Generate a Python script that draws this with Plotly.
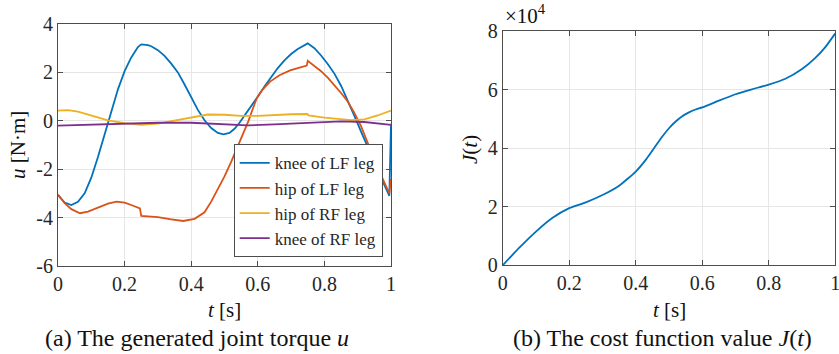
import plotly.graph_objects as go

# ---------------- data ----------------
t_knee_lf = [0, 0.02, 0.04, 0.06, 0.08, 0.10, 0.12, 0.14, 0.16, 0.18, 0.20, 0.22, 0.24, 0.25,
             0.27, 0.28, 0.30, 0.32, 0.34, 0.36, 0.38, 0.40, 0.42, 0.44, 0.46, 0.48, 0.497, 0.515,
             0.53, 0.545, 0.56, 0.58, 0.60, 0.62, 0.64, 0.66, 0.68, 0.70, 0.72, 0.74, 0.75,
             0.77, 0.79, 0.81, 0.83, 0.85, 0.87, 0.89, 0.91, 0.93, 0.95, 0.97, 0.985, 0.995, 1.0]
u_knee_lf = [-3.07, -3.38, -3.48, -3.35, -3.0, -2.35, -1.5, -0.6, 0.35, 1.3, 2.05, 2.62, 3.05, 3.16,
             3.13, 3.08, 2.92, 2.68, 2.36, 2.0, 1.5, 0.95, 0.45, 0.02, -0.3, -0.5, -0.56, -0.5,
             -0.33, -0.08, 0.2, 0.6, 1.0, 1.42, 1.82, 2.18, 2.5, 2.76, 2.97, 3.14, 3.2,
             3.0, 2.7, 2.35, 1.95, 1.45, 0.85, 0.2, -0.45, -1.05, -1.7, -2.35, -2.8, -3.1, -0.12]

t_hip_lf = [0, 0.02, 0.04, 0.066, 0.09, 0.12, 0.15, 0.176, 0.2, 0.22, 0.246, 0.25, 0.3, 0.34,
            0.376, 0.41, 0.44, 0.46, 0.48, 0.50, 0.52, 0.54, 0.556, 0.572, 0.585, 0.597, 0.615,
            0.637, 0.665, 0.697, 0.72, 0.747, 0.75, 0.77, 0.79, 0.81, 0.83, 0.85, 0.87, 0.89,
            0.91, 0.93, 0.95, 0.97, 0.985, 0.995, 1.0]
u_hip_lf = [-3.05, -3.4, -3.65, -3.82, -3.75, -3.58, -3.42, -3.34, -3.38, -3.48, -3.62, -3.93, -3.98, -4.07,
            -4.14, -4.05, -3.78, -3.34, -2.85, -2.3, -1.7, -1.05, -0.5, 0.0, 0.5, 0.93, 1.3,
            1.62, 1.88, 2.08, 2.18, 2.28, 2.48, 2.28, 2.05, 1.78, 1.47, 1.15, 0.8, 0.33,
            -0.22, -0.93, -1.6, -2.25, -2.7, -3.0, -2.4]

t_hip_rf = [0, 0.03, 0.06, 0.10, 0.15, 0.20, 0.25, 0.30, 0.35, 0.40, 0.45, 0.50, 0.55, 0.60,
            0.65, 0.70, 0.749, 0.752, 0.80, 0.85, 0.88, 0.92, 0.96, 1.0]
u_hip_rf = [0.42, 0.44, 0.38, 0.22, 0.02, -0.1, -0.17, -0.12, 0.0, 0.15, 0.26, 0.25, 0.2, 0.2,
            0.24, 0.27, 0.28, 0.22, 0.13, 0.05, 0.03, 0.06, 0.22, 0.42]

t_knee_rf = [0, 0.10, 0.20, 0.30, 0.40, 0.50, 0.57, 0.65, 0.75, 0.85, 0.92, 1.0]
u_knee_rf = [-0.2, -0.15, -0.1, -0.08, -0.08, -0.15, -0.19, -0.15, -0.08, -0.02, -0.05, -0.17]

t_cost = [0, 0.05, 0.10, 0.15, 0.20, 0.25, 0.30, 0.35, 0.40, 0.43, 0.46, 0.48, 0.50, 0.52, 0.54,
          0.56, 0.58, 0.60, 0.65, 0.70, 0.75, 0.80, 0.85, 0.90, 0.94, 0.97, 1.0]
J_cost = [0, 6000, 11500, 16200, 19500, 21500, 24000, 27200, 32000, 36000, 40800, 44000, 46800,
          49100, 50900, 52200, 53200, 53900, 56200, 58400, 60100, 61700, 63700, 67000, 70800,
          74500, 79200]

u_ticks = [-6, -4, -2, 0, 2, 4]
u_ticktext = ["-6", "-4", "-2", "0", "2", "4"]
t_ticks = [0, 0.2, 0.4, 0.6, 0.8, 1]
t_ticktext = ["0", "0.2", "0.4", "0.6", "0.8", "1"]
J_ticks = [0, 20000, 40000, 60000, 80000]
J_ticktext = ["0", "2", "4", "6", "8"]

names = ["knee of LF leg", "hip of LF leg", "hip of RF leg", "knee of RF leg"]
colors = ["#0072BD", "#D95319", "#EDB120", "#7E2F8E"]

# ---------------- figure ----------------
W, H = 839, 354
FONT = "Times New Roman, Liberation Serif, DejaVu Serif, serif"
TXT = "#262626"

fig = go.Figure()
series = [(t_knee_lf, u_knee_lf), (t_hip_lf, u_hip_lf), (t_hip_rf, u_hip_rf), (t_knee_rf, u_knee_rf)]
for (tx, uy), nm, c in zip(series, names, colors):
    fig.add_trace(go.Scatter(x=tx, y=uy, mode="lines", name=nm,
                             line=dict(color=c, width=1.8), xaxis="x", yaxis="y"))

fig.add_trace(go.Scatter(x=t_cost, y=J_cost, mode="lines", showlegend=False,
                         line=dict(color=colors[0], width=1.8, shape="spline", smoothing=0.5),
                         xaxis="x2", yaxis="y2"))

def px_x(p):
    return p / W

def px_y(p):
    return 1 - p / H

axis_common = dict(showline=True, linecolor="#4d4d4d", linewidth=1, mirror="ticks",
                   ticks="inside", ticklen=5, tickcolor="#4d4d4d", automargin=False,
                   ticklabeloverflow="allow",
                   showgrid=True, gridcolor="#e6e6e6", gridwidth=1, zeroline=False,
                   tickfont=dict(family=FONT, size=20, color=TXT))

fig.update_layout(
    template="none",
    width=W, height=H,
    margin=dict(l=0, r=0, t=0, b=0, pad=0),
    paper_bgcolor="white", plot_bgcolor="white",
    font=dict(family=FONT, size=20, color=TXT),
    xaxis=dict(domain=[px_x(58), px_x(391)], range=[0, 1], tickvals=t_ticks, ticktext=t_ticktext,
               anchor="y", **axis_common),
    yaxis=dict(domain=[px_y(266), px_y(24)], range=[-6, 4], tickvals=u_ticks, ticktext=u_ticktext,
               anchor="x", **axis_common),
    xaxis2=dict(domain=[px_x(502.7), px_x(835.3)], range=[0, 1], tickvals=t_ticks, ticktext=t_ticktext,
                anchor="y2", **axis_common),
    yaxis2=dict(domain=[px_y(265.3), px_y(31)], range=[0, 80000], tickvals=J_ticks, ticktext=J_ticktext,
                anchor="x2", **axis_common),
    legend=dict(x=px_x(382.7), y=px_y(257.3), xanchor="right", yanchor="bottom",
                bgcolor="white", bordercolor="#4d4d4d", borderwidth=1,
                font=dict(family=FONT, size=17, color=TXT), tracegroupgap=0),
    showlegend=True,
)

ann = [
    dict(x=px_x(224), y=px_y(310), text="<i>t</i> [s]", font=dict(size=21)),
    dict(x=px_x(669), y=px_y(310), text="<i>t</i> [s]", font=dict(size=21)),
    dict(x=px_x(18), y=px_y(145), text="<i>u</i> [N·m]", textangle=-90, font=dict(size=21)),
    dict(x=px_x(470), y=px_y(150), text="<i>J</i>(<i>t</i>)", textangle=-90, font=dict(size=21)),
    dict(x=px_x(197), y=px_y(338), text="(a) The generated joint torque <i>u</i>", font=dict(size=24)),
    dict(x=px_x(662), y=px_y(338), text="(b) The cost function value <i>J</i>(<i>t</i>)", font=dict(size=24)),
    dict(x=px_x(503), y=px_y(30), text="×10<sup>4</sup>", xanchor="left", yanchor="bottom",
         font=dict(size=21)),
]
for a in ann:
    a.setdefault("xanchor", "center")
    a.setdefault("yanchor", "middle")
    a["xref"] = "paper"
    a["yref"] = "paper"
    a["showarrow"] = False
    a["font"] = dict(family=FONT, color="#111", **a["font"])
    fig.add_annotation(**a)

fig.write_html("out.html", config={"displayModeBar": False},
               post_script="document.body.style.margin='0px';document.body.style.overflow='hidden';")
